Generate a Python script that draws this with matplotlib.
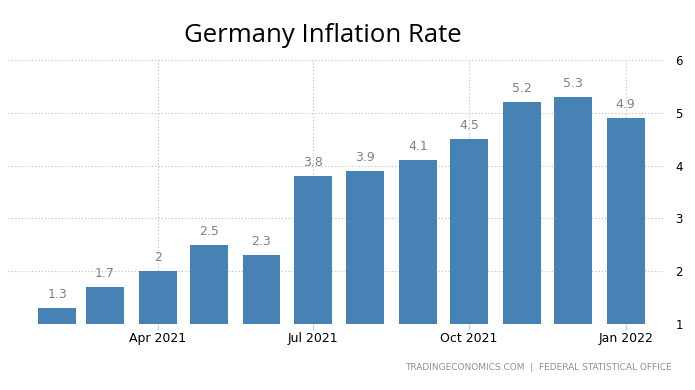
import matplotlib
matplotlib.use("Agg")
import matplotlib.pyplot as plt
import matplotlib.dates as mdates
import numpy as np
from datetime import datetime, timedelta

# monthly inflation, Feb 2021 .. Jan 2022
months = ["2021-02", "2021-03", "2021-04", "2021-05", "2021-06", "2021-07",
          "2021-08", "2021-09", "2021-10", "2021-11", "2021-12", "2022-01"]
rates = [1.3, 1.7, 2.0, 2.5, 2.3, 3.8, 3.9, 4.1, 4.5, 5.2, 5.3, 4.9]
rate_labels = ["1.3", "1.7", "2", "2.5", "2.3", "3.8", "3.9", "4.1", "4.5", "5.2", "5.3", "4.9"]
tick_months = ["2021-04", "2021-07", "2021-10", "2022-01"]
tick_labels = ["Apr 2021", "Jul 2021", "Oct 2021", "Jan 2022"]
y_ticks = [1, 2, 3, 4, 5, 6]

dates = [datetime.strptime(m, "%Y-%m") for m in months]
tick_dates = [datetime.strptime(m, "%Y-%m") for m in tick_months]

fig = plt.figure(figsize=(6.95, 3.9), dpi=100)
ax = fig.add_axes([8 / 695, 66 / 390, 655 / 695, 264 / 390])

ax.bar(dates, [r - 1 for r in rates], bottom=1, width=22.3, color="#4682b4", zorder=2)
for d, r, lab in zip(dates, rates, rate_labels):
    ax.annotate(lab, (mdates.date2num(d), r), xytext=(0, 5), textcoords="offset points",
                ha="center", va="bottom", fontsize=9, color="#808080", zorder=3)

ax.set_xlim(datetime(2021, 1, 3), datetime(2022, 1, 23))
ax.set_ylim(1, 6)
ax.set_xticks(tick_dates)
ax.set_xticklabels(tick_labels, fontsize=9)
ax.set_yticks(y_ticks)
ax.yaxis.tick_right()
ax.tick_params(axis="y", length=0, pad=9, labelsize=8.5)
ax.tick_params(axis="x", length=4, color="#cccccc", pad=2)
ax.grid(True, linestyle=(0, (1, 2)), color="#bdbdbd", linewidth=0.8, zorder=0)
for s in ax.spines.values():
    s.set_visible(False)

fig.text(323 / 695, 1 - 35 / 390, "Germany Inflation Rate", ha="center", va="center",
         fontsize=18.5, family="Open Sans", color="black")
fig.text(672 / 695, 1 - 367 / 390, "TRADINGECONOMICS.COM  |  FEDERAL STATISTICAL OFFICE",
         ha="right", va="center", fontsize=6.5, color="#909090")

fig.savefig("out.png", dpi=100)
